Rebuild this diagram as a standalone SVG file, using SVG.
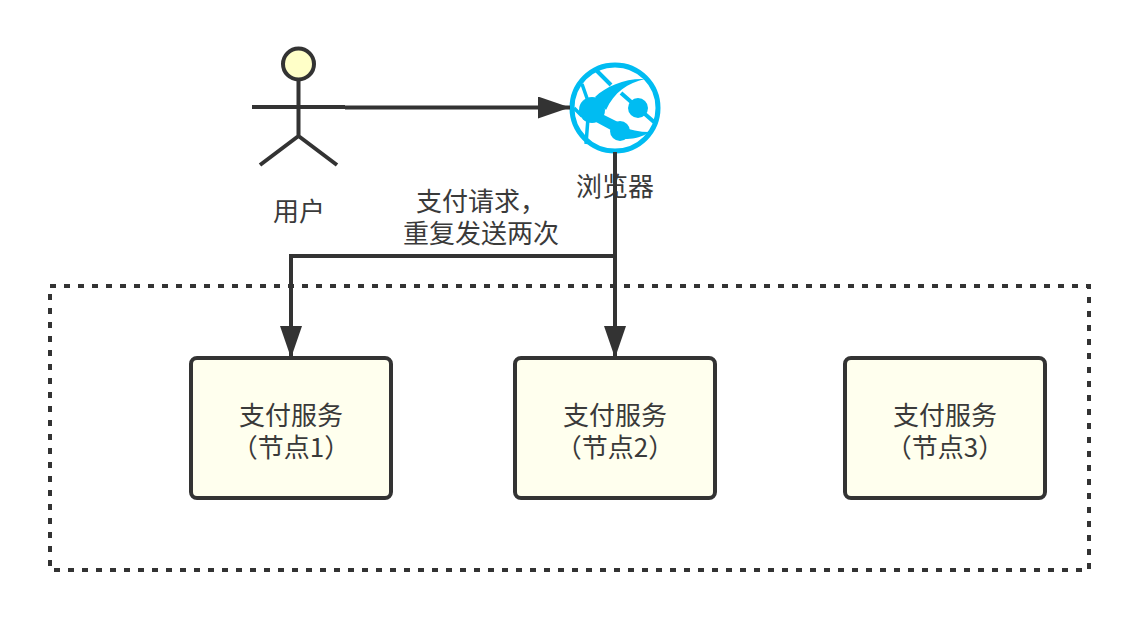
<svg xmlns="http://www.w3.org/2000/svg" width="1138" height="620" viewBox="0 0 1138 620">
<style>
text{font-family:"Noto Sans CJK SC","Liberation Sans",sans-serif;font-size:26px;fill:#3a3a3a;text-anchor:middle}
.box{fill:#ffffee;stroke:#333;stroke-width:4}
.ln{fill:none;stroke:#333;stroke-width:4}
.g{fill:none;stroke:#00bcf2}
.d{fill:#00bcf2}
</style>
<defs><marker id="a" markerUnits="userSpaceOnUse" markerWidth="32" markerHeight="24" refX="32" refY="11" orient="auto"><path d="M0 0L32 11L0 22Z" fill="#333"/></marker></defs>
<rect width="1138" height="620" fill="#fff"/>
<g id="cluster"><rect x="50" y="286" width="1039" height="284" fill="none" stroke="#333" stroke-width="4" stroke-dasharray="6 8"/></g>
<g id="user">
<circle cx="298.500" cy="64" r="15.500" fill="#ffffc8" stroke="#333" stroke-width="4"/>
<path class="ln" d="M298.500 80V136M252 107H345M298.500 136L260 165M298.500 136L337 165"/>
<text x="299" y="221">用户</text>
</g>
<g id="browser">
<circle class="g" cx="615" cy="108" r="43" stroke-width="5"/>
<path class="g" stroke-width="4" d="M597 71L611 85M621 93L654 122"/>
<path class="g" stroke-width="3.500" d="M582 84L589 104M582 116L574 108M588 118L586 144"/>
<path class="d" d="M595 97C606 86 626 78 645 79C628 83 614 92 606 110Z"/>
<path class="d" d="M598 112L622 124L622 136L596 122ZM620 126C630 130 640 132 649 132C640 139 628 140 618 138Z"/>
<circle class="d" cx="592" cy="110" r="13"/><circle class="d" cx="638" cy="108" r="10"/><circle class="d" cx="620" cy="131" r="10"/>
<text x="615" y="196">浏览器</text>
</g>
<g id="connectors">
<path class="ln" d="M345 107.500H570" marker-end="url(#a)"/>
<path class="ln" d="M615 152V358" marker-end="url(#a)"/>
<path class="ln" d="M615 256H291V358" marker-end="url(#a)"/>
</g>
<g id="edge-label"><text><tspan x="481" y="211">支付请求，</tspan><tspan x="481" y="243">重复发送两次</tspan></text></g>
<g id="node1"><rect class="box" x="191" y="358" width="200" height="140" rx="6"/><text><tspan x="291" y="425">支付服务</tspan><tspan x="291" y="457">（节点1）</tspan></text></g>
<g id="node2"><rect class="box" x="515" y="358" width="200" height="140" rx="6"/><text><tspan x="615" y="425">支付服务</tspan><tspan x="615" y="457">（节点2）</tspan></text></g>
<g id="node3"><rect class="box" x="845" y="358" width="200" height="140" rx="6"/><text><tspan x="945" y="425">支付服务</tspan><tspan x="945" y="457">（节点3）</tspan></text></g>
</svg>
